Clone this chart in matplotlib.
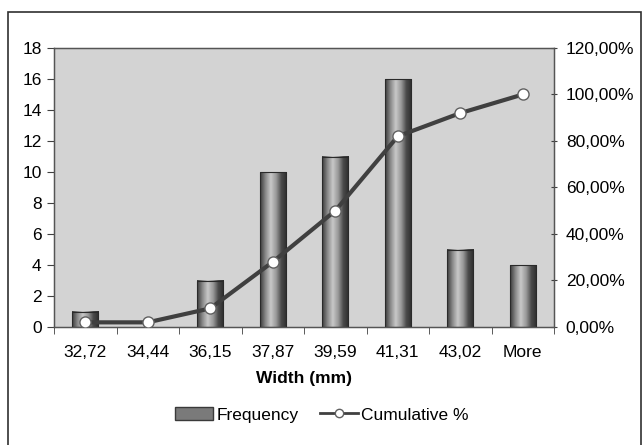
import matplotlib
matplotlib.use('Agg')
import matplotlib.pyplot as plt
import numpy as np
from matplotlib.patches import Rectangle, Patch
from matplotlib.lines import Line2D
from matplotlib.ticker import FuncFormatter
from matplotlib.colors import LinearSegmentedColormap

bins = ['32,72', '34,44', '36,15', '37,87', '39,59', '41,31', '43,02', 'More']
frequency = [1, 0, 3, 10, 11, 16, 5, 4]
cumulative = [0.02, 0.02, 0.08, 0.28, 0.50, 0.82, 0.92, 1.00]

plt.rcParams['font.family'] = ['Liberation Sans', 'DejaVu Sans']
plt.rcParams['font.size'] = 12.5

fig = plt.figure(figsize=(6.44, 4.45), dpi=100)
fig.patches.append(Rectangle((7.5 / 644, -0.05), 633.5 / 644, 1.05 - 11.5 / 445,
                             transform=fig.transFigure, fill=False,
                             edgecolor='#303030', linewidth=1.2))

ax = fig.add_axes([54 / 644, 118 / 445, 500 / 644, 279 / 445])
ax.set_facecolor('#d3d3d3')
x = np.arange(len(bins))

# cylinder-like shading for the bars
shade = LinearSegmentedColormap.from_list(
    'shade', ['#3a3a3a', '#8a8a8a', '#c8c8c8', '#9a9a9a', '#4a4a4a', '#2e2e2e'])
grad = np.linspace(0, 1, 64).reshape(1, -1)
w = 0.42
for xi, h in zip(x, frequency):
    if h <= 0:
        continue
    ax.imshow(grad, cmap=shade, extent=[xi - w / 2, xi + w / 2, 0, h],
              aspect='auto', zorder=2)
    ax.add_patch(Rectangle((xi - w / 2, 0), w, h, fill=False,
                           edgecolor='#2a2a2a', linewidth=0.8, zorder=3))
ax.set_xlim(-0.5, len(bins) - 0.5)
ax.set_ylim(0, 18)

ax.set_yticks(np.arange(0, 19, 2))
ax.set_xticks(x)
ax.set_xticklabels(bins)
ax.set_xticks(np.arange(-0.5, len(bins)), minor=True)
ax.tick_params(axis='x', which='major', length=0, pad=13)
ax.tick_params(axis='x', which='minor', length=5, direction='out', color='#404040')
ax.tick_params(axis='y', length=5, direction='out', color='#404040', pad=4)
for s in ax.spines.values():
    s.set_color('#555555')
    s.set_linewidth(1.0)
ax.set_xlabel('Width (mm)', fontweight='bold', labelpad=8)

ax2 = ax.twinx()
ax2.set_ylim(0, 1.2)
ax2.set_yticks(np.arange(0, 1.21, 0.2))
ax2.yaxis.set_major_formatter(FuncFormatter(lambda v, p: ('%.2f%%' % (v * 100)).replace('.', ',')))
ax2.tick_params(axis='y', length=5, direction='inout', color='#404040', pad=6)
for s in ax2.spines.values():
    s.set_color('#555555')
ax2.plot(x, cumulative, color='#404040', linewidth=3, marker='o', markersize=8,
         markerfacecolor='white', markeredgecolor='#606060', markeredgewidth=1.0,
         zorder=5)

handles = [Patch(facecolor='#7a7a7a', edgecolor='#3a3a3a'),
           Line2D([], [], color='#404040', linewidth=2, marker='o', markersize=6,
                  markerfacecolor='white', markeredgecolor='#606060')]
fig.legend(handles, ['Frequency', 'Cumulative %'], loc='center',
           bbox_to_anchor=(322 / 644, 1 - 415 / 445), ncol=2, frameon=False,
           handlelength=2.2, handletextpad=0.2, columnspacing=1.2)

fig.savefig('out.png', dpi=100)
